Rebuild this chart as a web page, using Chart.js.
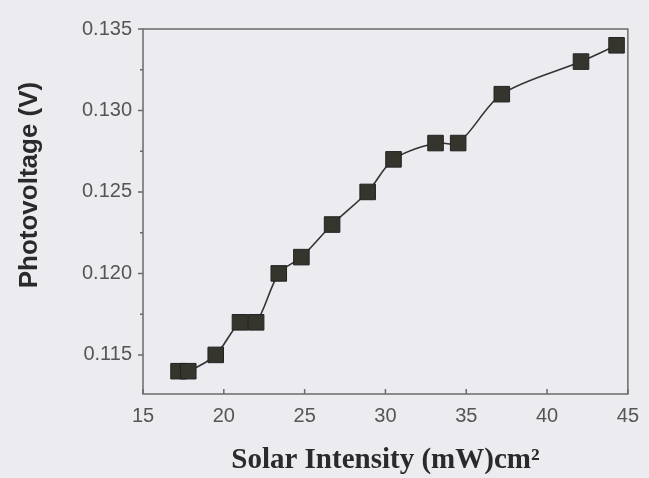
<!DOCTYPE html>
<html>
<head>
<meta charset="utf-8">
<script src="https://cdn.jsdelivr.net/npm/chart.js@4"></script>
<style>
  html, body { margin: 0; padding: 0; background: #ececf0; }
  #wrap { width: 649px; height: 478px; }
</style>
</head>
<body>
<div id="wrap"><canvas id="c" width="649" height="478"></canvas></div>
<script>
// Data
const solarIntensity = [17.2, 17.8, 19.5, 21.0, 22.0, 23.4, 24.8, 26.7, 28.9, 30.5, 33.1, 34.5, 37.2, 42.1, 44.3];
const photovoltage   = [0.114, 0.114, 0.115, 0.117, 0.117, 0.120, 0.121, 0.123, 0.125, 0.127, 0.128, 0.128, 0.131, 0.133, 0.134];
const xTickValues = [15, 20, 25, 30, 35, 40, 45];
const yTickValues = [0.115, 0.120, 0.125, 0.130, 0.135];
const xTitle = 'Solar Intensity (mW)cm\u00B2';
const yTitle = 'Photovoltage (V)';

const points = solarIntensity.map((x, i) => ({ x: x, y: photovoltage[i] }));

const framePlugin = {
  id: 'frame',
  afterDraw(chart) {
    const ctx = chart.ctx;
    const a = chart.chartArea;
    const xs = chart.scales.x, ys = chart.scales.y;
    ctx.save();
    ctx.strokeStyle = '#6a6a6a';
    ctx.lineWidth = 1.5;
    ctx.strokeRect(a.left, a.top, a.right - a.left, a.bottom - a.top);
    ctx.beginPath();
    // y ticks: major outward, minor outward (shorter)
    yTickValues.forEach((v, i) => {
      const py = ys.getPixelForValue(v);
      ctx.moveTo(a.left, py); ctx.lineTo(a.left - 5, py);
      if (i < yTickValues.length - 1) {
        const pm = ys.getPixelForValue((v + yTickValues[i + 1]) / 2);
        ctx.moveTo(a.left, pm); ctx.lineTo(a.left - 3, pm);
      }
    });
    // x ticks: inward
    xTickValues.forEach(v => {
      const px = xs.getPixelForValue(v);
      ctx.moveTo(px, a.bottom); ctx.lineTo(px, a.bottom - 5);
    });
    ctx.stroke();
    // y title
    ctx.fillStyle = '#2a2a2a';
    ctx.font = 'bold 26px "Liberation Sans", Arial, sans-serif';
    ctx.textAlign = 'center';
    ctx.textBaseline = 'middle';
    ctx.translate(30, 185);
    ctx.rotate(-Math.PI / 2);
    ctx.fillText(yTitle, 0, 0);
    ctx.restore();
  }
};

new Chart(document.getElementById('c'), {
  type: 'scatter',
  data: {
    datasets: [{
      data: points,
      showLine: true,
      borderColor: '#333333',
      borderWidth: 1.6,
      tension: 0.3,
      pointStyle: 'rect',
      pointRadius: 11,
      pointHoverRadius: 11,
      pointBackgroundColor: '#35352e',
      pointBorderColor: '#222222',
      pointBorderWidth: 1
    }]
  },
  options: {
    responsive: false,
    animation: false,
    devicePixelRatio: 1,
    layout: { padding: { top: 29, right: 17, left: 0, bottom: 0 } },
    plugins: { legend: { display: false }, tooltip: { enabled: false } },
    scales: {
      x: {
        type: 'linear',
        min: 15, max: 45,
        afterBuildTicks: s => { s.ticks = xTickValues.map(v => ({ value: v })); },
        afterFit: s => { s.height = 84; },
        grid: { display: false, drawTicks: false },
        border: { display: false },
        ticks: {
          padding: 10,
          color: '#555555',
          font: { family: '"Liberation Sans", Arial, sans-serif', size: 20 },
          maxRotation: 0,
          callback: v => String(v)
        },
        title: {
          display: true,
          text: xTitle,
          color: '#2a2a2a',
          font: { family: '"Liberation Serif", "Times New Roman", serif', size: 29, weight: 'bold' },
          padding: { top: 0, bottom: 0 }
        }
      },
      y: {
        type: 'linear',
        min: 0.1126, max: 0.135,
        afterBuildTicks: s => { s.ticks = yTickValues.map(v => ({ value: v })); },
        afterFit: s => { s.width = 143; },
        grid: { display: false, drawTicks: false },
        border: { display: false },
        ticks: {
          padding: 11,
          color: '#555555',
          font: { family: '"Liberation Sans", Arial, sans-serif', size: 20 },
          callback: v => v.toFixed(3)
        }
      }
    }
  },
  plugins: [framePlugin]
});
</script>
</body>
</html>
